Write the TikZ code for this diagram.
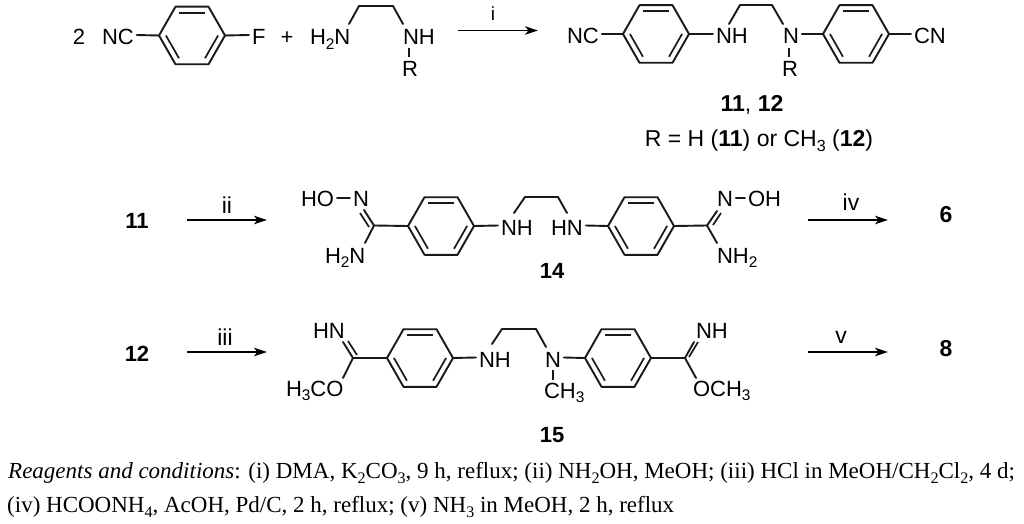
\documentclass[tikz,border=0pt]{standalone}
\usepackage{fontspec}
\setmainfont{Liberation Sans}
\newfontfamily\capfont{Liberation Serif}
\usetikzlibrary{calc,arrows.meta}
\newcommand\dn[1]{\raisebox{-0.22em}{\scalebox{0.7}{#1}}}
\tikzset{
  x=1pt,y=-1pt,
  bond/.style={line width=1.9pt,line cap=round,line join=round,color=black!90},
  inbond/.style={line width=1.7pt,line cap=butt,color=black!90},
  atom/.style={anchor=base west,inner xsep=3pt,inner ysep=0pt,outer sep=0pt,xshift=-3pt,
    text height=19pt,text depth=0pt,font=\fontsize{22}{25}\selectfont,text=black},
  lab/.style={anchor=base,inner sep=0pt,font=\fontsize{22}{25}\selectfont,text=black},
  big/.style={anchor=base,inner sep=0pt,font=\fontsize{23}{25}\selectfont,text=black},
  cond/.style={anchor=base,inner sep=0pt,font=\fontsize{23}{25}\selectfont,text=black},
  rxn/.style={line width=1.6pt,color=black,-{Stealth[length=13pt,width=8.5pt,inset=3.5pt]}},
  capt/.style={anchor=base west,inner sep=0pt,font=\capfont\fontsize{23}{27}\selectfont,text=black},
}
\newcommand\benz[3]{%
  \coordinate (#1) at (#2,#3);
  \coordinate (#1w) at ($(#1)+(-33,0)$);
  \coordinate (#1e) at ($(#1)+(33,0)$);
  \coordinate (#1nw) at ($(#1)+(-16.5,-28.8)$);
  \coordinate (#1ne) at ($(#1)+(16.5,-28.8)$);
  \coordinate (#1sw) at ($(#1)+(-16.5,28.8)$);
  \coordinate (#1se) at ($(#1)+(16.5,28.8)$);
  \draw[bond] (#1w) -- (#1nw) -- (#1ne) -- (#1e) -- (#1se) -- (#1sw) -- cycle;
  \draw[inbond] ($(#1)!0.79!(#1nw)$) -- ($(#1)!0.79!(#1ne)$);
  \draw[inbond] ($(#1)!0.79!(#1w)$) -- ($(#1)!0.79!(#1sw)$);
  \draw[inbond] ($(#1)!0.79!(#1e)$) -- ($(#1)!0.79!(#1se)$);
}
\begin{document}
\begin{tikzpicture}
\useasboundingbox (0,0) rectangle (1024,524);
\fill[white] (0,0) rectangle (1024,524);
% ---- row 1 reactants
\node[lab] (two) at (79,44.5) {2};
\node[atom] (nca) at (102,44.5) {NC};
\benz{ra}{192}{35.5}
\node[atom] (fa) at (252,44.5) {F};
\draw[bond] (nca.east) -- (raw);
\draw[bond] (rae) -- (fa.west);
\node[lab] (plus) at (287,44.5) {+};
\node[atom] (hn) at (310,44.5) {H\dn{2}N};
\node[atom] (nhr) at (403,44.5) {NH};
\node[atom] (ra1) at (402,77) {R};
\coordinate (e1) at (349,24);
\coordinate (e2) at (359,6);
\coordinate (e3) at (393,6);
\coordinate (e4) at (403,24);
\coordinate (e5) at (409,48);
\coordinate (e6) at (409,57);
\draw[bond] (e1) -- (e2) -- (e3) -- (e4);
\draw[bond,line cap=butt] (e5) -- (e6);
\coordinate (a1s) at (458,30.5);
\coordinate (a1e) at (538,30.5);
\draw[rxn] (a1s) -- (a1e);
\node[cond,font=\fontsize{19}{23}\selectfont] (li) at (493,21) {i};
% ---- row 1 product
\node[atom] (ncb) at (567,43.5) {NC};
\benz{rb}{656}{34}
\node[atom] (nhb) at (716,43.5) {NH};
\node[atom] (nb) at (783,43.5) {N};
\benz{rc}{856}{34}
\node[atom] (cnb) at (914,43.5) {CN};
\node[atom] (rb1) at (782,77) {R};
\draw[bond] (ncb.east) -- (rbw);
\draw[bond] (rbe) -- (nhb.west);
\draw[bond] (nb.east) -- (rcw);
\draw[bond] (rce) -- (cnb.west);
\coordinate (f1) at (729,24);
\coordinate (f2) at (740,5);
\coordinate (f3) at (772,5);
\coordinate (f4) at (783,24);
\coordinate (f5) at (789,48);
\coordinate (f6) at (789,57);
\draw[bond] (f1) -- (f2) -- (f3) -- (f4);
\draw[bond,line cap=butt] (f5) -- (f6);
\node[big] (t1112) at (752,112) {\textbf{11}, \textbf{12}};
\node[big] (tr) at (759,146) {R = H (\textbf{11}) or CH\dn{3} (\textbf{12})};
% ---- row 2
\node[lab] (p11) at (137,228) {\textbf{11}};
\coordinate (a2s) at (187,220);
\coordinate (a2e) at (267,220);
\draw[rxn] (a2s) -- (a2e);
\node[cond] (lii) at (227,213) {ii};
\node[atom,text height=16pt] (ho) at (301,206) {HO};
\node[atom,text height=16pt] (nl) at (353,206) {N};
\node[atom] (hnl) at (325,263) {H\dn{2}N};
\draw[bond] (ho.east) -- (nl.west);
\coordinate (cl) at (374,225.5);
\coordinate (nlb) at (364,210);
\coordinate (nlc) at (360,213);
\coordinate (nld) at (369,227);
\coordinate (nle) at (365,243);
\draw[bond] (nlb) -- (cl) -- (nle);
\draw[inbond] (nlc) -- (nld);
\benz{rd}{441}{226}
\draw[bond] (cl) -- (rdw);
\node[atom] (nhd) at (501,235) {NH};
\node[atom] (hnd) at (551,235) {HN};
\draw[bond] (rde) -- (nhd.west);
\coordinate (g1) at (514,213);
\coordinate (g2) at (525,197);
\coordinate (g3) at (558,197);
\coordinate (g4) at (567,213);
\draw[bond] (g1) -- (g2) -- (g3) -- (g4);
\benz{re}{641}{226}
\draw[bond] (hnd.east) -- (rew);
\coordinate (cr) at (707,225.5);
\draw[bond] (ree) -- (cr);
\node[atom,text height=16pt] (nr) at (717,206) {N};
\node[atom,text height=16pt] (oh) at (748,206) {OH};
\node[atom] (nh2) at (717,263) {NH\dn{2}};
\draw[bond] (nr.east) -- (oh.west);
\coordinate (nrb) at (717,211);
\coordinate (nrc) at (721,213);
\coordinate (nrd) at (713,225);
\coordinate (nre) at (717,243);
\draw[bond] (nrb) -- (cr) -- (nre);
\draw[inbond] (nrc) -- (nrd);
\node[lab] (t14) at (552,278) {\textbf{14}};
\coordinate (a4s) at (808,220);
\coordinate (a4e) at (888,220);
\draw[rxn] (a4s) -- (a4e);
\node[cond] (liv) at (851,210) {iv};
\node[big] (p6) at (946,222) {\textbf{6}};
% ---- row 3
\node[lab] (p12) at (137,361) {\textbf{12}};
\coordinate (a3s) at (187,352);
\coordinate (a3e) at (267,352);
\draw[rxn] (a3s) -- (a3e);
\node[cond] (liii) at (225,345) {iii};
\node[atom] (hnm) at (313,338) {HN};
\node[atom] (hco) at (286,396) {H\dn{3}CO};
\coordinate (cm) at (353,358);
\coordinate (nma) at (343,342);
\coordinate (nmb) at (348,341);
\coordinate (nmc) at (357,355);
\coordinate (nmd) at (343,378);
\draw[bond] (nma) -- (cm) -- (nmd);
\draw[inbond] (nmb) -- (nmc);
\benz{rf}{420}{358}
\draw[bond] (cm) -- (rfw);
\node[atom] (nhf) at (479,367) {NH};
\node[atom] (nf) at (545,367) {N};
\draw[bond] (rfe) -- (nhf.west);
\coordinate (h1) at (492,344);
\coordinate (h2) at (502,329);
\coordinate (h3) at (536,329);
\coordinate (h4) at (546,347);
\draw[bond] (h1) -- (h2) -- (h3) -- (h4);
\coordinate (h5) at (553,370);
\coordinate (h6) at (553,380);
\draw[bond,line cap=butt] (h5) -- (h6);
\node[atom] (ch3) at (544,398) {CH\dn{3}};
\benz{rg}{618}{358}
\draw[bond] (nf.east) -- (rgw);
\coordinate (cn) at (685,358);
\draw[bond] (rge) -- (cn);
\node[atom] (nhn) at (696,338) {NH};
\node[atom] (och) at (693,396) {OCH\dn{3}};
\coordinate (nna) at (694,342);
\coordinate (nnb) at (698,342);
\coordinate (nnc) at (689,357);
\coordinate (nnd) at (696,378);
\draw[bond] (nna) -- (cn) -- (nnd);
\draw[inbond] (nnb) -- (nnc);
\node[lab] (t15) at (552,442) {\textbf{15}};
\coordinate (a5s) at (808,352);
\coordinate (a5e) at (888,352);
\draw[rxn] (a5s) -- (a5e);
\node[cond] (lv) at (841,343) {v};
\node[big] (p8) at (946,356) {\textbf{8}};
% ---- caption
\node[capt] (c1) at (8,478) {\textit{Reagents and conditions}: (i) DMA, K\dn{2}CO\dn{3}, 9 h, reflux; (ii) NH\dn{2}OH, MeOH; (iii) HCl in MeOH/CH\dn{2}Cl\dn{2}, 4 d;};
\node[capt] (c2) at (7,512) {(iv) HCOONH\dn{4}, AcOH, Pd/C, 2 h, reflux; (v) NH\dn{3} in MeOH, 2 h, reflux};
\end{tikzpicture}
\end{document}
